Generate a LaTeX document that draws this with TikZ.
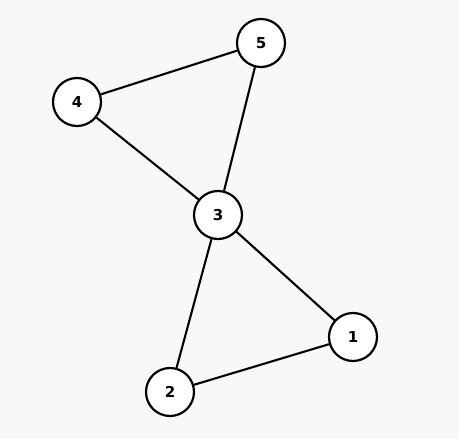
\documentclass[tikz,border=0pt]{standalone}
\usepackage{fontspec}
\setmainfont{DejaVu Sans}
\definecolor{bgc}{HTML}{F8F8F8}
\begin{document}
\begin{tikzpicture}[x=1pt,y=-1pt,
  vtx/.style={circle,draw=black,fill=white,line width=2.2pt,minimum size=48pt,inner sep=0pt,font=\bfseries\fontsize{15}{17}\selectfont},
  edge/.style={line width=2.1pt}]
\fill[bgc] (0,0) rectangle (459,439);
\useasboundingbox (0,0) rectangle (459,439);
\node[vtx] (n5) at (261,43) {5};
\node[vtx] (n4) at (77,102) {4};
\node[vtx] (n3) at (218,215) {3};
\node[vtx] (n1) at (353,337) {1};
\node[vtx] (n2) at (170,392) {2};
\draw[edge] (n4) -- (n5);
\draw[edge] (n5) -- (n3);
\draw[edge] (n4) -- (n3);
\draw[edge] (n3) -- (n1);
\draw[edge] (n3) -- (n2);
\draw[edge] (n2) -- (n1);
\end{tikzpicture}
\end{document}
